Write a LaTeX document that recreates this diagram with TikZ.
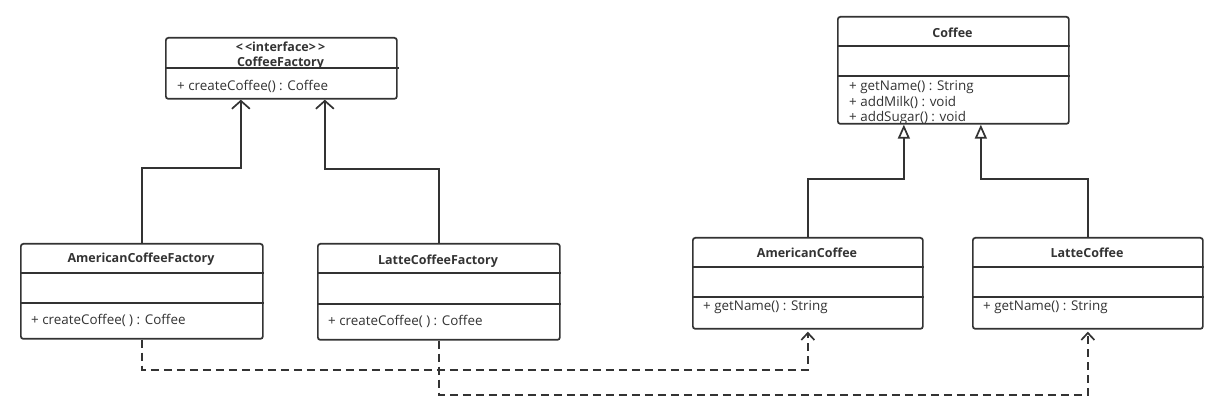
\documentclass[tikz,border=0pt]{standalone}
\usepackage{fontspec}
\setmainfont{Open Sans}
\usetikzlibrary{arrows.meta,calc}
\definecolor{ink}{HTML}{333333}
\tikzset{
  umlbox/.style={draw=ink,line width=1.7pt,rounded corners=2.5pt,inner sep=0pt,anchor=north west},
  divider/.style={draw=ink,line width=1.7pt},
  titletext/.style={font=\fontsize{12.5}{14}\selectfont\bfseries,text=ink,inner sep=0pt,anchor=center},
  membertext/.style={font=\fontsize{13.4}{15}\selectfont,text=ink,inner sep=0pt,anchor=west},
  realize/.style={draw=ink,line width=1.7pt,-{Straight Barb[length=8pt,width=18pt,line width=1.7pt]}},
  inherit/.style={draw=ink,line width=1.7pt,-{Triangle[open,length=14pt,width=12pt,line width=1.7pt,fill=white]}},
  depend/.style={draw=ink,line width=1.7pt,dash pattern=on 8pt off 5pt,-{Straight Barb[length=7pt,width=13pt,line width=1.7pt]}}
}
\begin{document}
\begin{tikzpicture}[x=1pt,y=-1pt]
\useasboundingbox[fill=white] (0,0) rectangle (1213,411);

% CoffeeFactory
\node[umlbox,minimum width=231pt,minimum height=61pt] (cf) at (165,37) {};
\draw[divider] ([yshift=-31pt]cf.north west) -- ([yshift=-31pt,xshift=1pt]cf.north east);
\node[titletext] (cfst) at (280.5,47) {{<}\,{<}interface{>}\,{>}};
\node[titletext] (cft) at (280.5,63) {CoffeeFactory};
\node[membertext] (cfm) at (177,86) {+ createCoffee() : Coffee};

% AmericanCoffeeFactory
\node[umlbox,minimum width=242pt,minimum height=95pt] (acf) at (20,243) {};
\draw[divider] ([yshift=-30pt]acf.north west) -- ([yshift=-30pt]acf.north east);
\draw[divider] ([yshift=-60pt]acf.north west) -- ([yshift=-60pt]acf.north east);
\node[titletext] (acft) at (141,259) {AmericanCoffeeFactory};
\node[membertext] (acfm) at (31,320) {+ createCoffee( ) : Coffee};

% LatteCoffeeFactory
\node[umlbox,minimum width=242pt,minimum height=96pt] (lcf) at (317,243) {};
\draw[divider] ([yshift=-30pt]lcf.north west) -- ([yshift=-30pt]lcf.north east);
\draw[divider] ([yshift=-61pt]lcf.north west) -- ([yshift=-61pt]lcf.north east);
\node[titletext] (lcft) at (438,261) {LatteCoffeeFactory};
\node[membertext] (lcfm) at (328,321) {+ createCoffee( ) : Coffee};

% Coffee
\node[membertext] (com1) at (849,87) {+ getName() : String};
\node[membertext] (com2) at (849,102) {+ addMilk() : void};
\node[membertext] (com3) at (849,118) {+ addSugar() : void};
\fill[white] (838,124) rectangle (1067,130);
\node[umlbox,minimum width=231pt,minimum height=107pt] (co) at (837,16) {};
\draw[divider] ([yshift=-30pt]co.north west) -- ([yshift=-30pt]co.north east);
\draw[divider] ([yshift=-60pt]co.north west) -- ([yshift=-60pt]co.north east);
\node[titletext] (cot) at (952.5,33) {Coffee};

% AmericanCoffee
\node[umlbox,minimum width=230pt,minimum height=91pt] (ac) at (692,237) {};
\draw[divider] ([yshift=-30pt]ac.north west) -- ([yshift=-30pt]ac.north east);
\draw[divider] ([yshift=-60pt]ac.north west) -- ([yshift=-60pt]ac.north east);
\node[titletext] (act) at (807,253) {AmericanCoffee};
\node[membertext] (acm) at (703,307) {+ getName() : String};

% LatteCoffee
\node[umlbox,minimum width=230pt,minimum height=91pt] (lc) at (972,237) {};
\draw[divider] ([yshift=-30pt]lc.north west) -- ([yshift=-30pt]lc.north east);
\draw[divider] ([yshift=-60pt]lc.north west) -- ([yshift=-60pt]lc.north east);
\node[titletext] (lct) at (1087,253) {LatteCoffee};
\node[membertext] (lcm) at (983,307) {+ getName() : String};

% realization to CoffeeFactory
\draw[realize] (acf.north) -- ++(0,-75) -| ([xshift=-40.5pt]cf.south);
\draw[realize] (lcf.north) -- ++(0,-74) -| ([xshift=43.5pt]cf.south);

% inheritance to Coffee
\draw[inherit] (ac.north) -- ++(0,-58) -| ([xshift=-49.5pt]co.south);
\draw[inherit] (lc.north) -- ++(0,-58) -| ([xshift=27.5pt]co.south);

% dependencies
\draw[depend] (acf.south) -- ++(0,30) -| ([yshift=-2pt]ac.south);
\draw[depend] (lcf.south) -- ++(0,54) -| ([yshift=-2pt]lc.south);
\end{tikzpicture}
\end{document}
